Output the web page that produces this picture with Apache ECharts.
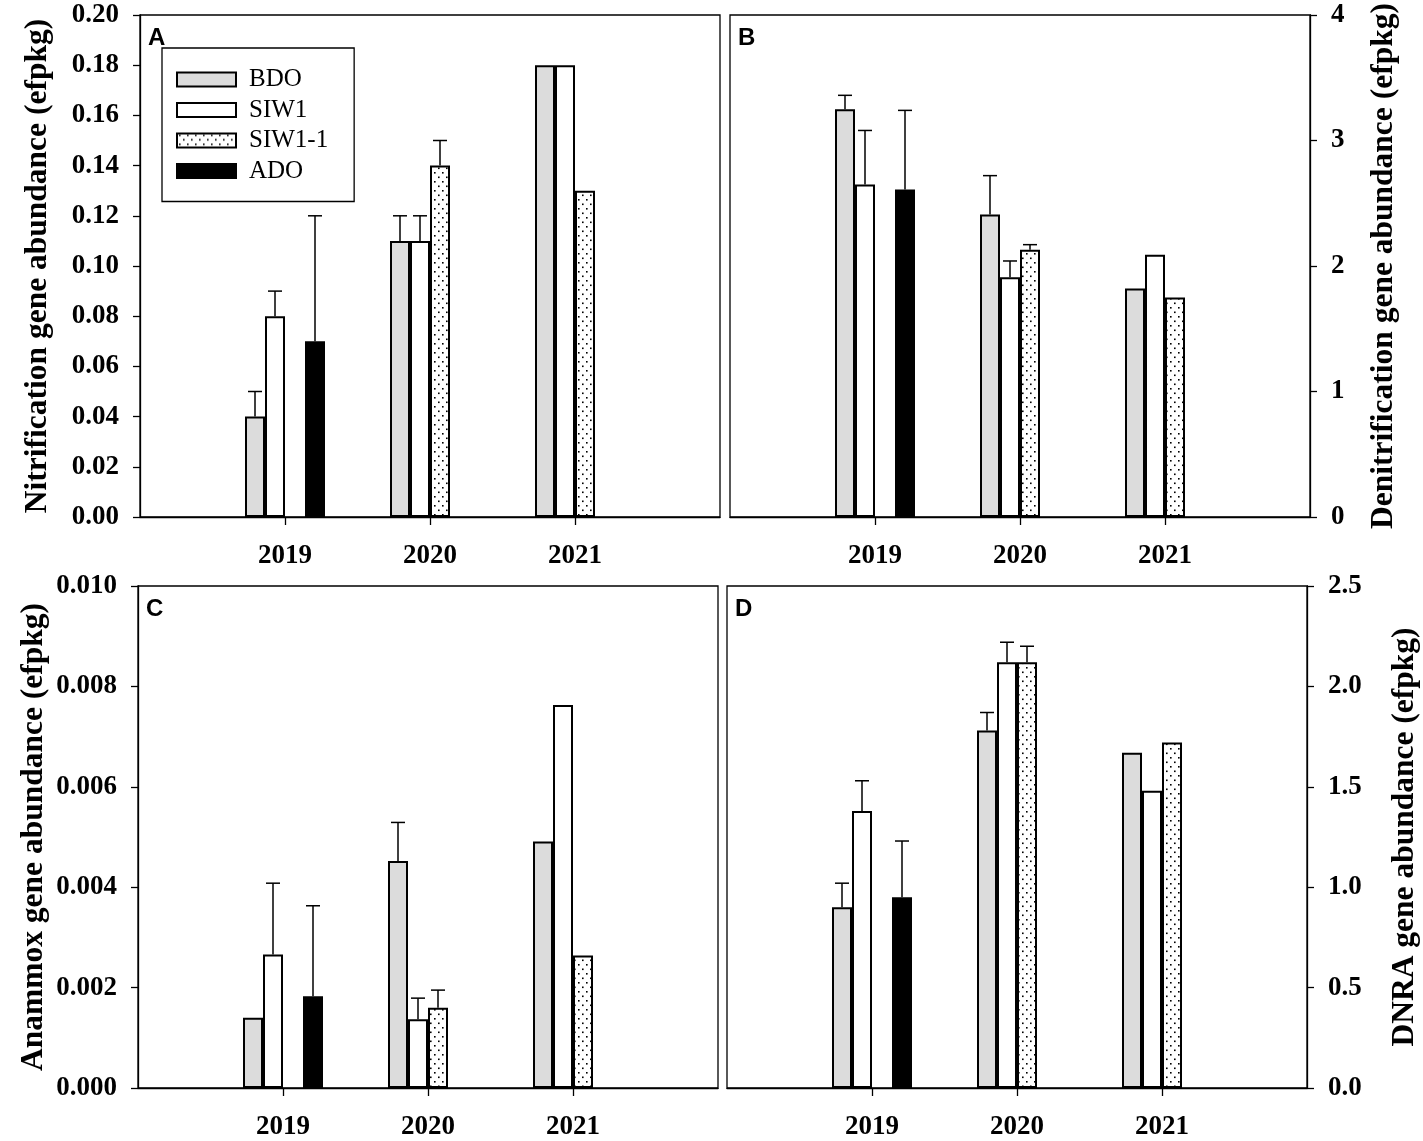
<!DOCTYPE html>
<html>
<head>
<meta charset="utf-8">
<script src="https://cdn.jsdelivr.net/npm/echarts@6/dist/echarts.min.js"></script>
<style>
    html, body {margin: 0; padding: 0; background: #fff;}
    #app {width: 1423px; height: 1141px;}
</style>
</head>
<body>
<div id="app"></div>
<script>
// 类别（首尾留空，让年份落在 1、2、3 的位置）
const years = ["", "2019", "2020", "2021", ""];
const groups = ["BDO", "SIW1", "SIW1-1", "ADO"];

// A 硝化
const nitBDO = [0.04, 0.11, 0.18];
const nitBDOErr = [0.01, 0.01, null];
const nitSIW1 = [0.08, 0.11, 0.18];
const nitSIW1Err = [0.01, 0.01, null];
const nitSIW11 = [null, 0.14, 0.13];
const nitSIW11Err = [null, 0.01, null];
const nitADO = [0.07, null, null];
const nitADOErr = [0.05, null, null];

// B 反硝化
const denBDO = [3.25, 2.41, 1.82];
const denBDOErr = [0.11, 0.31, null];
const denSIW1 = [2.65, 1.91, 2.09];
const denSIW1Err = [0.43, 0.13, null];
const denSIW11 = [null, 2.13, 1.75];
const denSIW11Err = [null, 0.04, null];
const denADO = [2.61, null, null];
const denADOErr = [0.63, null, null];

// C 厌氧氨氧化
const anaBDO = [0.0014, 0.00452, 0.00491];
const anaBDOErr = [null, 0.00077, null];
const anaSIW1 = [0.00266, 0.00137, 0.00763];
const anaSIW1Err = [0.00142, 0.00042, null];
const anaSIW11 = [null, 0.0016, 0.00264];
const anaSIW11Err = [null, 0.00035, null];
const anaADO = [0.00183, null, null];
const anaADOErr = [0.0018, null, null];

// D DNRA
const dnrBDO = [0.90, 1.78, 1.67];
const dnrBDOErr = [0.12, 0.09, null];
const dnrSIW1 = [1.38, 2.12, 1.48];
const dnrSIW1Err = [0.15, 0.10, null];
const dnrSIW11 = [null, 2.12, 1.72];
const dnrSIW11Err = [null, 0.08, null];
const dnrADO = [0.95, null, null];
const dnrADOErr = [0.28, null, null];

const serif = "'Times New Roman', 'Liberation Serif', serif";
const barW = 20;

// 点状填充
let makeDots = () => {
    let c = document.createElement("canvas");
    c.width = 8;
    c.height = 9;
    let ctx = c.getContext("2d");
    ctx.fillStyle = "#fff";
    ctx.fillRect(0, 0, 8, 9);
    ctx.fillStyle = "#000";
    ctx.fillRect(2, 1, 1.6, 1.6);
    ctx.fillRect(6, 5.5, 1.6, 1.6);
    return c;
};
const fills = ["#dcdcdc", "#ffffff", {image: makeDots(), repeat: "repeat"}, "#000000"];

const panels = [
    {letter: "A", left: 140, top: 15, max: 0.2, step: 0.02, digits: 2, side: "left", gap: 86,
        name: "Nitrification gene abundance (efpkg)",
        sets: [[nitBDO, nitBDOErr], [nitSIW1, nitSIW1Err], [nitSIW11, nitSIW11Err], [nitADO, nitADOErr]]},
    {letter: "B", left: 730, top: 15, max: 4, step: 1, digits: 0, side: "right", gap: 58,
        name: "Denitrification gene abundance (efpkg)",
        sets: [[denBDO, denBDOErr], [denSIW1, denSIW1Err], [denSIW11, denSIW11Err], [denADO, denADOErr]]},
    {letter: "C", left: 138, top: 586, max: 0.01, step: 0.002, digits: 3, side: "left", gap: 88,
        name: "Anammox gene abundance (efpkg)",
        sets: [[anaBDO, anaBDOErr], [anaSIW1, anaSIW1Err], [anaSIW11, anaSIW11Err], [anaADO, anaADOErr]]},
    {letter: "D", left: 727, top: 586, max: 2.5, step: 0.5, digits: 1, side: "right", gap: 82,
        name: "DNRA gene abundance (efpkg)",
        sets: [[dnrBDO, dnrBDOErr], [dnrSIW1, dnrSIW1Err], [dnrSIW11, dnrSIW11Err], [dnrADO, dnrADOErr]]}
];

let grids = [], xAxes = [], yAxes = [], series = [], texts = [];

panels.forEach((p, gi) => {
    grids.push({
        left: p.left, top: p.top, width: 580, height: 502,
        show: true, borderColor: "#000", borderWidth: 1.3
    });
    xAxes.push({
        gridIndex: gi,
        type: "category",
        boundaryGap: false,
        data: years,
        axisLine: {lineStyle: {color: "#000", width: 1.3}},
        axisTick: {length: 8, lineStyle: {color: "#000", width: 1.3}, interval: (i) => i >= 1 && i <= 3},
        axisLabel: {interval: 0, margin: 26, color: "#000", fontFamily: serif, fontWeight: "bold", fontSize: 27},
        splitLine: {show: false}
    });
    yAxes.push({
        gridIndex: gi,
        type: "value",
        position: p.side,
        min: 0,
        max: p.max,
        interval: p.step,
        name: p.name,
        nameLocation: "middle",
        nameRotate: 90,
        nameGap: p.gap,
        nameTextStyle: {color: "#000", fontFamily: serif, fontWeight: "bold", fontSize: 31.5},
        axisLine: {show: true, lineStyle: {color: "#000", width: 1.3}},
        axisTick: {show: true, length: 7, lineStyle: {color: "#000", width: 1.3}},
        axisLabel: {
            margin: 21, color: "#000", fontFamily: serif, fontWeight: "bold", fontSize: 27,
            formatter: (v) => v.toFixed(p.digits)
        },
        splitLine: {show: false}
    });

    p.sets.forEach((s, k) => {
        let vals = s[0], errs = s[1];
        series.push({
            name: groups[k],
            type: "bar",
            xAxisIndex: gi,
            yAxisIndex: gi,
            barWidth: barW,
            barGap: "0%",
            data: [null].concat(vals, [null]),
            itemStyle: {color: fills[k], borderColor: "#000", borderWidth: 2},
            emphasis: {disabled: true}
        });
        // 误差线（只画上半）
        let errData = [];
        vals.forEach((v, i) => {
            if (v != null && errs[i] != null) errData.push([i + 1, v + errs[i], v]);
        });
        let off = (k - 1.5) * barW;
        series.push({
            type: "custom",
            xAxisIndex: gi,
            yAxisIndex: gi,
            z: 3,
            silent: true,
            encode: {x: 0, y: 1},
            data: errData,
            renderItem: (params, api) => {
                let top = api.coord([api.value(0), api.value(1)]);
                let base = api.coord([api.value(0), api.value(2)]);
                let x = top[0] + off;
                let st = {stroke: "#000", lineWidth: 1.5};
                return {
                    type: "group",
                    children: [
                        {type: "line", shape: {x1: x, y1: base[1], x2: x, y2: top[1]}, style: st},
                        {type: "line", shape: {x1: x - 7, y1: top[1], x2: x + 7, y2: top[1]}, style: st}
                    ]
                };
            }
        });
    });

    texts.push({
        type: "text",
        left: p.left + 8,
        top: p.top + 11,
        style: {text: p.letter, fill: "#000", font: "bold 24px 'Liberation Sans', Arial, sans-serif"}
    });
});

let myChart = echarts.init(document.querySelector("#app"));
myChart.setOption({
    animation: false,
    backgroundColor: "#fff",
    grid: grids,
    xAxis: xAxes,
    yAxis: yAxes,
    legend: {
        data: groups,
        orient: "vertical",
        left: 162,
        top: 48,
        icon: "rect",
        itemWidth: 59,
        itemHeight: 14,
        itemGap: 5.5,
        selectedMode: false,
        borderColor: "#000",
        borderWidth: 1.3,
        padding: [19, 26, 18, 14],
        textStyle: {color: "#000", fontFamily: serif, fontSize: 25, lineHeight: 25, padding: [0, 0, 0, 8]}
    },
    graphic: texts,
    series: series
});
</script>
</body>
</html>
